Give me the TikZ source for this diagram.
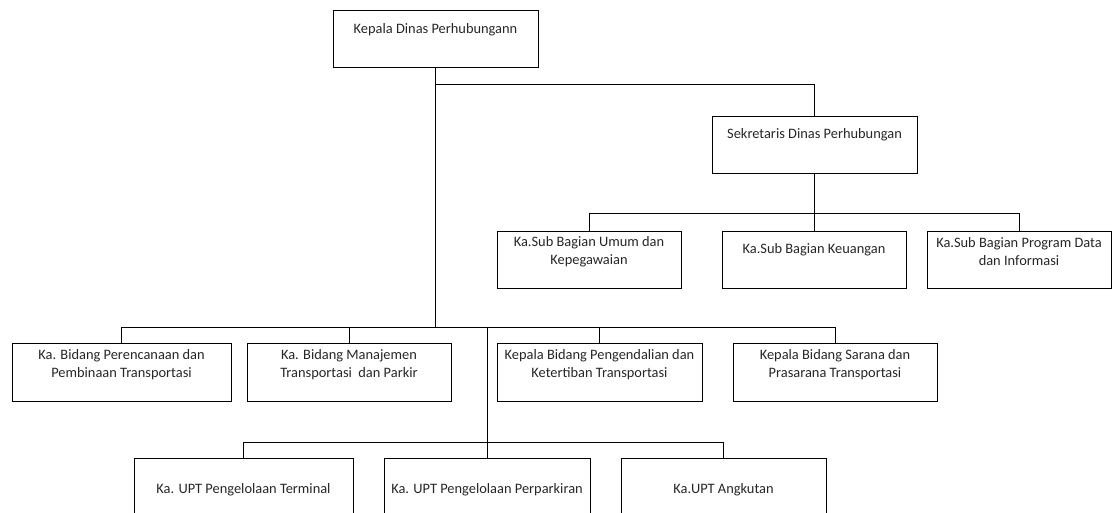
\documentclass[tikz,border=0pt]{standalone}
\usepackage{fontspec}
\setmainfont{Carlito}
\usetikzlibrary{calc}
\begin{document}
\begin{tikzpicture}[x=1pt,y=-1pt,
  box/.style={draw=black, line width=0.8pt, minimum height=57pt, inner sep=0pt},
  lbl/.style={anchor=center, align=center, font=\fontsize{14.4}{18.5}\selectfont, inner sep=0pt, text=black!85},
  link/.style={draw=black, line width=0.8pt}]
\clip (0,0) rectangle (1114,513);
% coordinates of the bus lines
\coordinate (topbar) at (0,84);
\coordinate (subbar) at (0,213);
\coordinate (r2bar) at (0,327);
\coordinate (r3bar) at (0,442);
% top
\node[box, minimum width=205pt] (kd) at (435.5,38.5) {};
\node[lbl] (kdt) at ($(kd.north)+(0,20)$) {Kepala Dinas Perhubungann};
% sekretaris
\node[box, minimum width=205pt] (sk) at (814.5,144.5) {};
\node[lbl] (skt) at ($(sk.north)+(0,19)$) {Sekretaris Dinas Perhubungan};
% sub bagian
\node[box, minimum width=184pt] (s1) at (589,259.5) {};
\node[lbl] (s1t) at ($(s1.north)+(0,21)$) {Ka.Sub Bagian Umum dan\\Kepegawaian};
\node[box, minimum width=184pt] (s2) at (814,259.5) {};
\node[lbl] (s2t) at ($(s2.north)+(0,19)$) {Ka.Sub Bagian Keuangan};
\node[box, minimum width=184pt] (s3) at (1019,259.5) {};
\node[lbl] (s3t) at ($(s3.north)+(0,21)$) {Ka.Sub Bagian Program Data\\dan Informasi};
% bidang row
\node[box, minimum width=219pt, minimum height=58pt] (b1) at (121.5,372) {};
\node[lbl] (b1t) at ($(b1.north)+(0,22)$) {Ka. Bidang Perencanaan dan\\Pembinaan Transportasi};
\node[box, minimum width=204pt, minimum height=58pt] (b2) at (349,372) {};
\node[lbl] (b2t) at ($(b2.north)+(0,22)$) {Ka. Bidang Manajemen\\Transportasi\ \ dan Parkir};
\node[box, minimum width=205pt, minimum height=58pt] (b3) at (599.5,372) {};
\node[lbl] (b3t) at ($(b3.north)+(0,22)$) {Kepala Bidang Pengendalian dan\\Ketertiban Transportasi};
\node[box, minimum width=204pt, minimum height=58pt] (b4) at (835,372) {};
\node[lbl] (b4t) at ($(b4.north)+(0,22)$) {Kepala Bidang Sarana dan\\Prasarana Transportasi};
% UPT row
\node[box, minimum width=219pt, minimum height=82pt] (c1) at (243.5,499) {};
\node[lbl] (c1t) at ($(c1.north)+(0,32)$) {Ka. UPT Pengelolaan Terminal};
\node[box, minimum width=206pt, minimum height=82pt] (c2) at (487,499) {};
\node[lbl] (c2t) at ($(c2.north)+(0,32)$) {Ka. UPT Pengelolaan Perparkiran};
\node[box, minimum width=205pt, minimum height=82pt] (c3) at (723.5,499) {};
\node[lbl] (c3t) at ($(c3.north)+(0,32)$) {Ka.UPT Angkutan};
% connectors
\draw[link] (kd.south) -- (kd.south |- r2bar);
\draw[link] (kd.south |- topbar) -| (sk.north);
\draw[link] (sk.south) -- (sk.south |- subbar);
\draw[link] (s1.north) |- (s3.north |- subbar) -- (s3.north);
\draw[link] (s2.north |- subbar) -- (s2.north);
\draw[link] (b1.north) |- (b4.north |- r2bar) -- (b4.north);
\draw[link] (b2.north |- r2bar) -- (b2.north);
\draw[link] (b3.north |- r2bar) -- (b3.north);
\draw[link] (c2.north |- r2bar) -- (c2.north);
\draw[link] (c1.north) |- (c3.north |- r3bar) -- (c3.north);
\end{tikzpicture}
\end{document}
